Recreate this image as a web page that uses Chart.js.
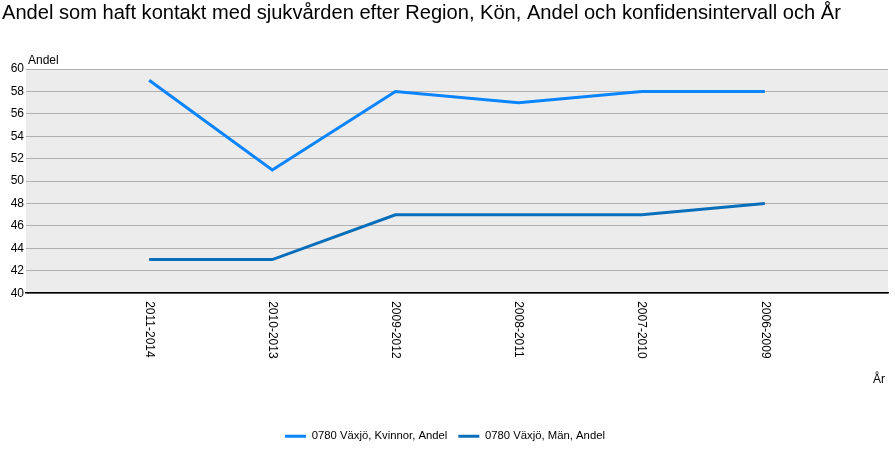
<!DOCTYPE html>
<html>
<head>
<meta charset="utf-8">
<script src="https://cdn.jsdelivr.net/npm/chart.js@4"></script>
<style>
  body { margin: 0; background: #fff; }
  #wrap { width: 895px; height: 473px; }
</style>
</head>
<body>
<div id="wrap"><canvas id="sjukvard"></canvas></div>
<script>
// data
const years = ['2011-2014', '2010-2013', '2009-2012', '2008-2011', '2007-2010', '2006-2009'];
const kvinnor = [59, 51, 58, 57, 58, 58];
const man = [43, 43, 47, 47, 47, 48];
const yTicks = [40, 42, 44, 46, 48, 50, 52, 54, 56, 58, 60];

// the axis has one empty slot on each side of the categories
const labels = [''].concat(years, ['']);
const pad = (arr) => [null].concat(arr, [null]);

const FONT = '"Liberation Sans", Arial, sans-serif';

// grey plot background + extra texts (axis names, rotated year labels)
const extras = {
    id: 'extras',
    beforeDraw(chart) {
        const { ctx, chartArea } = chart;
        ctx.save();
        ctx.fillStyle = '#ececec';
        ctx.fillRect(chartArea.left, chartArea.top, chartArea.right - chartArea.left, chartArea.bottom - chartArea.top);
        ctx.restore();
    },
    afterDraw(chart) {
        const { ctx, chartArea } = chart;
        const x = chart.scales.x;
        ctx.save();
        ctx.fillStyle = '#000';
        ctx.font = '12px ' + FONT;
        // y axis name
        ctx.textAlign = 'left';
        ctx.textBaseline = 'alphabetic';
        ctx.fillText('Andel', 28, chartArea.top - 5);
        // x axis name
        ctx.textAlign = 'right';
        ctx.fillText('År', 885, 383);
        // year labels, reading top to bottom
        years.forEach((y, i) => {
            ctx.save();
            ctx.translate(x.getPixelForValue(i + 1), chartArea.bottom + 8);
            ctx.rotate(Math.PI / 2);
            ctx.textAlign = 'left';
            ctx.textBaseline = 'middle';
            ctx.fillText(y, 0, 0);
            ctx.restore();
        });
        ctx.restore();
    }
};

const ctx = document.getElementById('sjukvard').getContext('2d');
const chart = new Chart(ctx, {
    type: 'line',
    data: {
        labels: labels,
        datasets: [{
            label: '0780 Växjö, Kvinnor, Andel',
            data: pad(kvinnor),
            borderColor: '#0a84ff',
            backgroundColor: '#0a84ff',
            borderWidth: 3,
            pointRadius: 0,
            tension: 0
        }, {
            label: '0780 Växjö, Män, Andel',
            data: pad(man),
            borderColor: '#0a6fba',
            backgroundColor: '#0a6fba',
            borderWidth: 3,
            pointRadius: 0,
            tension: 0
        }]
    },
    options: {
        responsive: true,
        maintainAspectRatio: false,
        animation: false,
        layout: { padding: { left: 2, right: 7, top: 0, bottom: 21 } },
        scales: {
            x: {
                offset: false,
                grid: { display: false },
                border: { display: true, color: '#000', width: 1.5 },
                ticks: { display: false },
                afterFit(scale) { scale.height = 126.5; }
            },
            y: {
                min: 40,
                max: 60,
                afterBuildTicks(scale) { scale.ticks = yTicks.map(v => ({ value: v })); },
                grid: { color: '#b0b0b0', lineWidth: 1, drawTicks: false },
                border: { display: false },
                ticks: { color: '#000', font: { family: FONT, size: 12 }, padding: 2 },
                afterFit(scale) { scale.width = 24; }
            }
        },
        plugins: {
            title: {
                display: true,
                text: 'Andel som haft kontakt med sjukvården efter Region, Kön, Andel och konfidensintervall och År',
                align: 'start',
                color: '#000',
                font: { family: FONT, size: 20.1, weight: 'normal' },
                padding: { top: 1.5, bottom: 43.5 }
            },
            legend: {
                position: 'bottom',
                labels: {
                    color: '#000',
                    font: { family: FONT, size: 11.3 },
                    usePointStyle: true,
                    pointStyle: 'line',
                    pointStyleWidth: 21,
                    boxHeight: 11,
                    padding: 11
                }
            },
            tooltip: { enabled: false }
        }
    },
    plugins: [extras]
});
</script>
</body>
</html>
